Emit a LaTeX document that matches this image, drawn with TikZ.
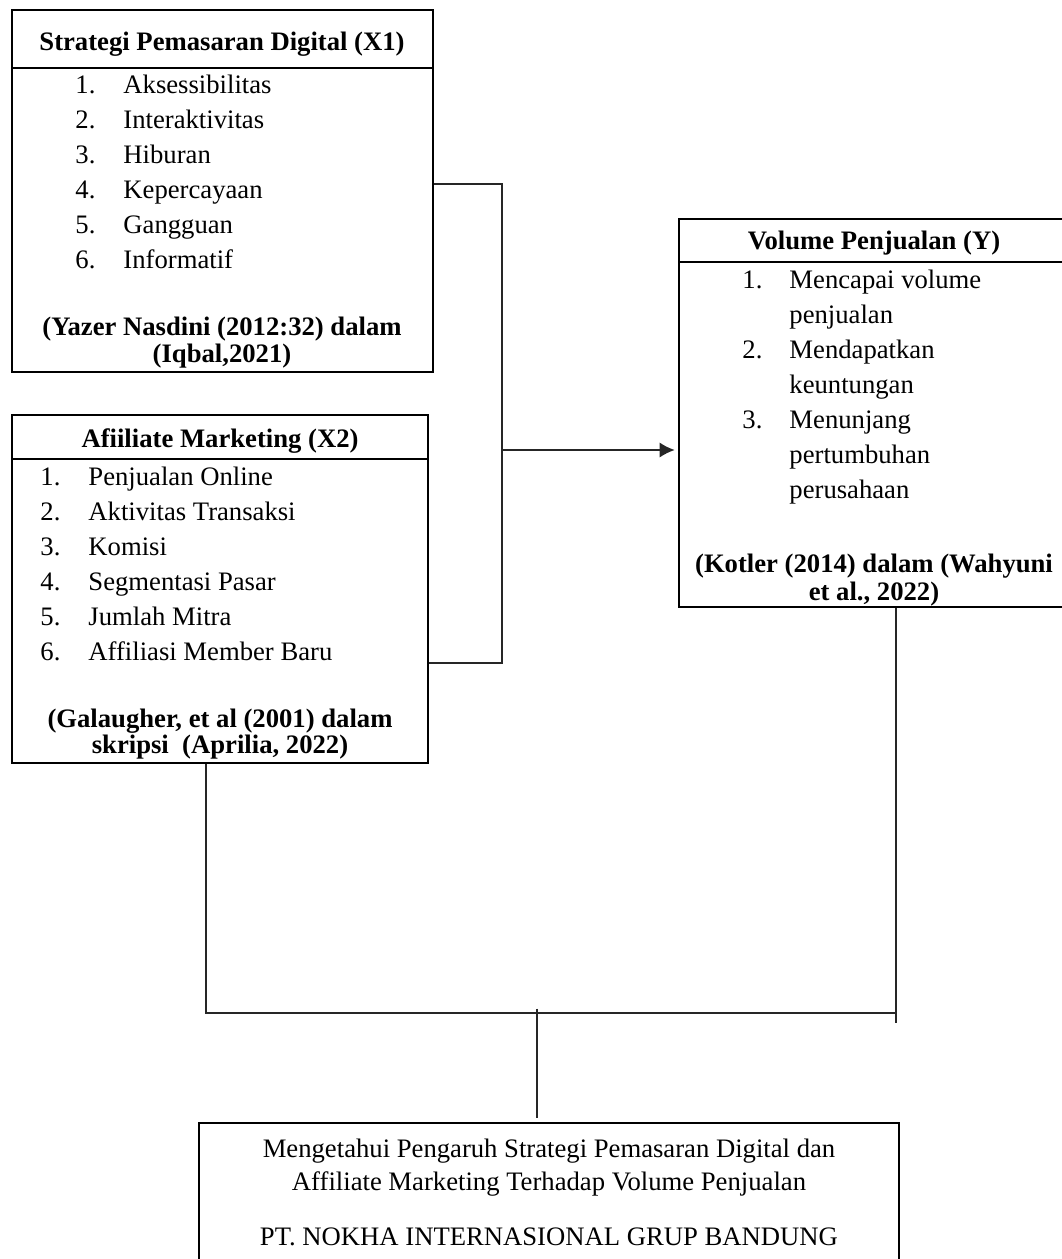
\documentclass[tikz,border=0pt]{standalone}
\usepackage{fontspec}
\setmainfont{Liberation Serif}
\usepackage{tikz}
\usetikzlibrary{positioning,arrows.meta,fit}

\begin{document}
\begin{tikzpicture}[
    x=0.45pt, y=-0.45pt,
    >={Latex[length=6.75pt,width=6.75pt]},
    box/.style={draw, line width=0.9pt, inner sep=0pt},
    link/.style={draw=black!85, line width=0.6pt},
    ttl/.style={inner sep=0pt, anchor=base, font=\fontsize{12}{14}\selectfont\bfseries},
    cite/.style={ttl},
    num/.style={inner sep=0pt, anchor=base west, font=\fontsize{12}{14}\selectfont},
    txt/.style={num},
    goaltxt/.style={inner sep=0pt, anchor=base, font=\fontsize{12}{14}\selectfont},
  ]
    \useasboundingbox (0,0) rectangle (1062,1259);

    % ---------- X1 ----------
    \node[box, fit={(12,10) (433,68)}]  (x1head) {};
    \node[box, fit={(12,68) (433,372)}] (x1) {};
    \node[ttl] (x1title) at (222,50) {Strategi Pemasaran Digital (X1)};
    \foreach \t [count=\i] in {Aksessibilitas, Interaktivitas, Hiburan, Kepercayaan, Gangguan, Informatif} {
      \node[num] (x1n\i) at (75,{58+35*\i}) {\i.};
      \node[txt] (x1i\i) at (123,{58+35*\i}) {\t};
    }
    \node[cite] (x1c1) at (222,335) {(Yazer Nasdini (2012:32) dalam};
    \node[cite] (x1c2) at (222,362) {(Iqbal,2021)};

    % ---------- X2 ----------
    \node[box, fit={(12,415) (428,459)}] (x2head) {};
    \node[box, fit={(12,459) (428,763)}] (x2) {};
    \node[ttl] (x2title) at (220,447) {Afiiliate Marketing (X2)};
    \foreach \t [count=\i] in {Penjualan Online, Aktivitas Transaksi, Komisi, Segmentasi Pasar, Jumlah Mitra, Affiliasi Member Baru} {
      \node[num] (x2n\i) at (40,{450+35*\i}) {\i.};
      \node[txt] (x2i\i) at (88,{450+35*\i}) {\t};
    }
    \node[cite] (x2c1) at (220,727) {(Galaugher, et al (2001) dalam};
    \node[cite] (x2c2) at (220,753) {skripsi\ \ (Aprilia, 2022)};

    % ---------- Y ----------
    \node[box, fit={(679,219) (1069,262)}] (yhead) {};
    \node[box, fit={(679,262) (1069,607)}] (yvol) {};
    \node[ttl] (ytitle) at (874,249) {Volume Penjualan (Y)};
    \foreach \n/\t [count=\k] in {1./Mencapai volume, /penjualan, 2./Mendapatkan, /keuntungan, 3./Menunjang, /pertumbuhan, /perusahaan} {
      \node[num] (yn\k) at (742,{253+35*\k}) {\n};
      \node[txt] (yi\k) at (789,{253+35*\k}) {\t};
    }
    \node[cite] (yc1) at (874,572) {(Kotler (2014) dalam (Wahyuni};
    \node[cite] (yc2) at (874,600) {et al., 2022)};

    % ---------- goal ----------
    \node[box, fit={(199,1123) (899,1262)}] (goal) {};
    \node[goaltxt] (g1) at (549,1157) {Mengetahui Pengaruh Strategi Pemasaran Digital dan};
    \node[goaltxt] (g2) at (549,1190) {Affiliate Marketing Terhadap Volume Penjualan};
    \node[goaltxt] (g3) at (549,1245) {PT. NOKHA INTERNASIONAL GRUP BANDUNG};

    % ---------- connectors ----------
    \coordinate (jx1) at (502,184);
    \coordinate (jx2) at (502,663);
    \coordinate (jy)  at (502,450);
    \draw[link] (x1.east |- jx1) -- (jx1) -- (jx2) -- (x2.east |- jx2);
    \draw[link, ->, shorten >=1.5pt] (jy) -- (yvol.west |- jy);

    \coordinate (bl) at (206,1013);
    \coordinate (br) at (896,1013);
    \coordinate (bm) at (537,1013);
    \draw[link] (x2.south -| bl) -- (bl) -- (br);
    \draw[link] (yvol.south -| br) -- ([yshift=-4.5pt]br);
    \draw[link, shorten >=2pt] ([yshift=2pt]bm) -- (goal.north -| bm);
\end{tikzpicture}
\end{document}
